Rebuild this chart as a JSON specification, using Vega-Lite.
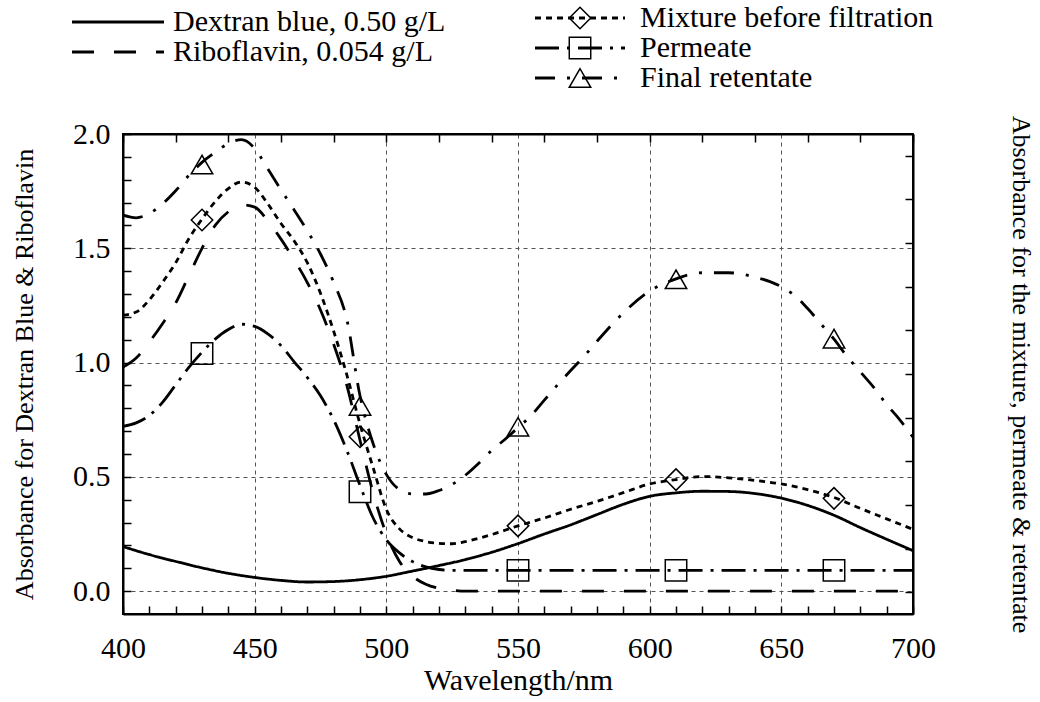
{
  "$schema": "https://vega.github.io/schema/vega-lite/v6.json",
  "autosize": {"type": "none"},
  "padding": {"left": 123, "top": 134, "right": 127, "bottom": 88},
  "width": 790,
  "height": 480,
  "background": "white",
  "config": {
    "font": "Times New Roman, Liberation Serif, serif",
    "view": {"stroke": "black", "strokeWidth": 2},
    "text": {"font": "Times New Roman, Liberation Serif, serif"},
    "axis": {
      "labelFont": "Times New Roman, Liberation Serif, serif", "titleFont": "Times New Roman, Liberation Serif, serif",
      "labelColor": "black", "titleColor": "black", "titleFontWeight": "normal",
      "tickColor": "black", "domainColor": "black", "domainWidth": 2, "tickWidth": 1.5,
      "gridColor": "#555", "gridDash": [4, 4], "gridWidth": 1,
      "labelFontSize": 30, "labelOverlap": false, "labelFlush": false
    },
    "legend": {
      "labelFont": "Times New Roman, Liberation Serif, serif", "labelFontSize": 30, "labelColor": "black",
      "padding": 0, "rowPadding": 0, "clipHeight": 30, "labelLimit": 0, "title": null
    }
  },
  "datasets": {
    "left": [
      {"wavelength": 400, "absorbance": 0.195, "sample": "Dextran blue, 0.50 g/L"},
      {"wavelength": 410, "absorbance": 0.16, "sample": "Dextran blue, 0.50 g/L"},
      {"wavelength": 420, "absorbance": 0.13, "sample": "Dextran blue, 0.50 g/L"},
      {"wavelength": 430, "absorbance": 0.102, "sample": "Dextran blue, 0.50 g/L"},
      {"wavelength": 440, "absorbance": 0.078, "sample": "Dextran blue, 0.50 g/L"},
      {"wavelength": 450, "absorbance": 0.06, "sample": "Dextran blue, 0.50 g/L"},
      {"wavelength": 460, "absorbance": 0.047, "sample": "Dextran blue, 0.50 g/L"},
      {"wavelength": 470, "absorbance": 0.04, "sample": "Dextran blue, 0.50 g/L"},
      {"wavelength": 480, "absorbance": 0.042, "sample": "Dextran blue, 0.50 g/L"},
      {"wavelength": 490, "absorbance": 0.05, "sample": "Dextran blue, 0.50 g/L"},
      {"wavelength": 500, "absorbance": 0.065, "sample": "Dextran blue, 0.50 g/L"},
      {"wavelength": 510, "absorbance": 0.088, "sample": "Dextran blue, 0.50 g/L"},
      {"wavelength": 520, "absorbance": 0.112, "sample": "Dextran blue, 0.50 g/L"},
      {"wavelength": 530, "absorbance": 0.138, "sample": "Dextran blue, 0.50 g/L"},
      {"wavelength": 540, "absorbance": 0.17, "sample": "Dextran blue, 0.50 g/L"},
      {"wavelength": 550, "absorbance": 0.208, "sample": "Dextran blue, 0.50 g/L"},
      {"wavelength": 560, "absorbance": 0.25, "sample": "Dextran blue, 0.50 g/L"},
      {"wavelength": 570, "absorbance": 0.29, "sample": "Dextran blue, 0.50 g/L"},
      {"wavelength": 580, "absorbance": 0.335, "sample": "Dextran blue, 0.50 g/L"},
      {"wavelength": 590, "absorbance": 0.38, "sample": "Dextran blue, 0.50 g/L"},
      {"wavelength": 600, "absorbance": 0.415, "sample": "Dextran blue, 0.50 g/L"},
      {"wavelength": 610, "absorbance": 0.43, "sample": "Dextran blue, 0.50 g/L"},
      {"wavelength": 620, "absorbance": 0.437, "sample": "Dextran blue, 0.50 g/L"},
      {"wavelength": 630, "absorbance": 0.436, "sample": "Dextran blue, 0.50 g/L"},
      {"wavelength": 640, "absorbance": 0.427, "sample": "Dextran blue, 0.50 g/L"},
      {"wavelength": 650, "absorbance": 0.407, "sample": "Dextran blue, 0.50 g/L"},
      {"wavelength": 660, "absorbance": 0.375, "sample": "Dextran blue, 0.50 g/L"},
      {"wavelength": 670, "absorbance": 0.332, "sample": "Dextran blue, 0.50 g/L"},
      {"wavelength": 680, "absorbance": 0.278, "sample": "Dextran blue, 0.50 g/L"},
      {"wavelength": 690, "absorbance": 0.227, "sample": "Dextran blue, 0.50 g/L"},
      {"wavelength": 700, "absorbance": 0.177, "sample": "Dextran blue, 0.50 g/L"},
      {"wavelength": 400, "absorbance": 0.98, "sample": "Riboflavin, 0.054 g/L"},
      {"wavelength": 405, "absorbance": 1.02, "sample": "Riboflavin, 0.054 g/L"},
      {"wavelength": 410, "absorbance": 1.09, "sample": "Riboflavin, 0.054 g/L"},
      {"wavelength": 415, "absorbance": 1.17, "sample": "Riboflavin, 0.054 g/L"},
      {"wavelength": 420, "absorbance": 1.26, "sample": "Riboflavin, 0.054 g/L"},
      {"wavelength": 425, "absorbance": 1.38, "sample": "Riboflavin, 0.054 g/L"},
      {"wavelength": 430, "absorbance": 1.5, "sample": "Riboflavin, 0.054 g/L"},
      {"wavelength": 435, "absorbance": 1.6, "sample": "Riboflavin, 0.054 g/L"},
      {"wavelength": 440, "absorbance": 1.66, "sample": "Riboflavin, 0.054 g/L"},
      {"wavelength": 445, "absorbance": 1.69, "sample": "Riboflavin, 0.054 g/L"},
      {"wavelength": 450, "absorbance": 1.68, "sample": "Riboflavin, 0.054 g/L"},
      {"wavelength": 455, "absorbance": 1.62, "sample": "Riboflavin, 0.054 g/L"},
      {"wavelength": 460, "absorbance": 1.54, "sample": "Riboflavin, 0.054 g/L"},
      {"wavelength": 465, "absorbance": 1.45, "sample": "Riboflavin, 0.054 g/L"},
      {"wavelength": 470, "absorbance": 1.35, "sample": "Riboflavin, 0.054 g/L"},
      {"wavelength": 475, "absorbance": 1.23, "sample": "Riboflavin, 0.054 g/L"},
      {"wavelength": 480, "absorbance": 1.08, "sample": "Riboflavin, 0.054 g/L"},
      {"wavelength": 485, "absorbance": 0.9, "sample": "Riboflavin, 0.054 g/L"},
      {"wavelength": 490, "absorbance": 0.66, "sample": "Riboflavin, 0.054 g/L"},
      {"wavelength": 495, "absorbance": 0.43, "sample": "Riboflavin, 0.054 g/L"},
      {"wavelength": 500, "absorbance": 0.25, "sample": "Riboflavin, 0.054 g/L"},
      {"wavelength": 505, "absorbance": 0.13, "sample": "Riboflavin, 0.054 g/L"},
      {"wavelength": 510, "absorbance": 0.065, "sample": "Riboflavin, 0.054 g/L"},
      {"wavelength": 515, "absorbance": 0.03, "sample": "Riboflavin, 0.054 g/L"},
      {"wavelength": 520, "absorbance": 0.012, "sample": "Riboflavin, 0.054 g/L"},
      {"wavelength": 525, "absorbance": 0.004, "sample": "Riboflavin, 0.054 g/L"},
      {"wavelength": 530, "absorbance": 0, "sample": "Riboflavin, 0.054 g/L"},
      {"wavelength": 550, "absorbance": 0, "sample": "Riboflavin, 0.054 g/L"},
      {"wavelength": 600, "absorbance": 0, "sample": "Riboflavin, 0.054 g/L"},
      {"wavelength": 650, "absorbance": 0, "sample": "Riboflavin, 0.054 g/L"},
      {"wavelength": 700, "absorbance": 0, "sample": "Riboflavin, 0.054 g/L"}
    ],
    "right": [
      {"wavelength": 400, "absorbance": 0.585, "sample": "Mixture before filtration"},
      {"wavelength": 405, "absorbance": 0.592, "sample": "Mixture before filtration"},
      {"wavelength": 410, "absorbance": 0.62, "sample": "Mixture before filtration"},
      {"wavelength": 415, "absorbance": 0.66, "sample": "Mixture before filtration"},
      {"wavelength": 420, "absorbance": 0.705, "sample": "Mixture before filtration"},
      {"wavelength": 425, "absorbance": 0.76, "sample": "Mixture before filtration"},
      {"wavelength": 430, "absorbance": 0.805, "sample": "Mixture before filtration"},
      {"wavelength": 435, "absorbance": 0.845, "sample": "Mixture before filtration"},
      {"wavelength": 440, "absorbance": 0.875, "sample": "Mixture before filtration"},
      {"wavelength": 445, "absorbance": 0.89, "sample": "Mixture before filtration"},
      {"wavelength": 450, "absorbance": 0.878, "sample": "Mixture before filtration"},
      {"wavelength": 455, "absorbance": 0.84, "sample": "Mixture before filtration"},
      {"wavelength": 460, "absorbance": 0.795, "sample": "Mixture before filtration"},
      {"wavelength": 465, "absorbance": 0.755, "sample": "Mixture before filtration"},
      {"wavelength": 470, "absorbance": 0.705, "sample": "Mixture before filtration"},
      {"wavelength": 475, "absorbance": 0.635, "sample": "Mixture before filtration"},
      {"wavelength": 480, "absorbance": 0.548, "sample": "Mixture before filtration"},
      {"wavelength": 485, "absorbance": 0.448, "sample": "Mixture before filtration"},
      {"wavelength": 490, "absorbance": 0.335, "sample": "Mixture before filtration"},
      {"wavelength": 495, "absorbance": 0.235, "sample": "Mixture before filtration"},
      {"wavelength": 500, "absorbance": 0.14, "sample": "Mixture before filtration"},
      {"wavelength": 505, "absorbance": 0.095, "sample": "Mixture before filtration"},
      {"wavelength": 510, "absorbance": 0.075, "sample": "Mixture before filtration"},
      {"wavelength": 515, "absorbance": 0.066, "sample": "Mixture before filtration"},
      {"wavelength": 520, "absorbance": 0.062, "sample": "Mixture before filtration"},
      {"wavelength": 525, "absorbance": 0.061, "sample": "Mixture before filtration"},
      {"wavelength": 530, "absorbance": 0.066, "sample": "Mixture before filtration"},
      {"wavelength": 540, "absorbance": 0.082, "sample": "Mixture before filtration"},
      {"wavelength": 550, "absorbance": 0.102, "sample": "Mixture before filtration"},
      {"wavelength": 560, "absorbance": 0.12, "sample": "Mixture before filtration"},
      {"wavelength": 570, "absorbance": 0.14, "sample": "Mixture before filtration"},
      {"wavelength": 580, "absorbance": 0.158, "sample": "Mixture before filtration"},
      {"wavelength": 590, "absorbance": 0.178, "sample": "Mixture before filtration"},
      {"wavelength": 600, "absorbance": 0.198, "sample": "Mixture before filtration"},
      {"wavelength": 610, "absorbance": 0.208, "sample": "Mixture before filtration"},
      {"wavelength": 620, "absorbance": 0.215, "sample": "Mixture before filtration"},
      {"wavelength": 630, "absorbance": 0.212, "sample": "Mixture before filtration"},
      {"wavelength": 640, "absorbance": 0.206, "sample": "Mixture before filtration"},
      {"wavelength": 650, "absorbance": 0.198, "sample": "Mixture before filtration"},
      {"wavelength": 660, "absorbance": 0.185, "sample": "Mixture before filtration"},
      {"wavelength": 670, "absorbance": 0.167, "sample": "Mixture before filtration"},
      {"wavelength": 680, "absorbance": 0.142, "sample": "Mixture before filtration"},
      {"wavelength": 690, "absorbance": 0.118, "sample": "Mixture before filtration"},
      {"wavelength": 700, "absorbance": 0.094, "sample": "Mixture before filtration"},
      {"wavelength": 400, "absorbance": 0.33, "sample": "Permeate"},
      {"wavelength": 405, "absorbance": 0.338, "sample": "Permeate"},
      {"wavelength": 410, "absorbance": 0.355, "sample": "Permeate"},
      {"wavelength": 415, "absorbance": 0.385, "sample": "Permeate"},
      {"wavelength": 420, "absorbance": 0.425, "sample": "Permeate"},
      {"wavelength": 425, "absorbance": 0.465, "sample": "Permeate"},
      {"wavelength": 430, "absorbance": 0.5, "sample": "Permeate"},
      {"wavelength": 435, "absorbance": 0.53, "sample": "Permeate"},
      {"wavelength": 440, "absorbance": 0.552, "sample": "Permeate"},
      {"wavelength": 445, "absorbance": 0.564, "sample": "Permeate"},
      {"wavelength": 450, "absorbance": 0.559, "sample": "Permeate"},
      {"wavelength": 455, "absorbance": 0.542, "sample": "Permeate"},
      {"wavelength": 460, "absorbance": 0.515, "sample": "Permeate"},
      {"wavelength": 465, "absorbance": 0.478, "sample": "Permeate"},
      {"wavelength": 470, "absorbance": 0.442, "sample": "Permeate"},
      {"wavelength": 475, "absorbance": 0.4, "sample": "Permeate"},
      {"wavelength": 480, "absorbance": 0.345, "sample": "Permeate"},
      {"wavelength": 485, "absorbance": 0.275, "sample": "Permeate"},
      {"wavelength": 490, "absorbance": 0.195, "sample": "Permeate"},
      {"wavelength": 495, "absorbance": 0.12, "sample": "Permeate"},
      {"wavelength": 500, "absorbance": 0.07, "sample": "Permeate"},
      {"wavelength": 505, "absorbance": 0.04, "sample": "Permeate"},
      {"wavelength": 510, "absorbance": 0.02, "sample": "Permeate"},
      {"wavelength": 515, "absorbance": 0.008, "sample": "Permeate"},
      {"wavelength": 520, "absorbance": 0.002, "sample": "Permeate"},
      {"wavelength": 525, "absorbance": 0, "sample": "Permeate"},
      {"wavelength": 550, "absorbance": 0, "sample": "Permeate"},
      {"wavelength": 600, "absorbance": 0, "sample": "Permeate"},
      {"wavelength": 650, "absorbance": 0, "sample": "Permeate"},
      {"wavelength": 700, "absorbance": 0, "sample": "Permeate"},
      {"wavelength": 400, "absorbance": 0.814, "sample": "Final retentate"},
      {"wavelength": 405, "absorbance": 0.808, "sample": "Final retentate"},
      {"wavelength": 410, "absorbance": 0.818, "sample": "Final retentate"},
      {"wavelength": 415, "absorbance": 0.84, "sample": "Final retentate"},
      {"wavelength": 420, "absorbance": 0.87, "sample": "Final retentate"},
      {"wavelength": 425, "absorbance": 0.905, "sample": "Final retentate"},
      {"wavelength": 430, "absorbance": 0.935, "sample": "Final retentate"},
      {"wavelength": 435, "absorbance": 0.958, "sample": "Final retentate"},
      {"wavelength": 440, "absorbance": 0.978, "sample": "Final retentate"},
      {"wavelength": 445, "absorbance": 0.987, "sample": "Final retentate"},
      {"wavelength": 450, "absorbance": 0.967, "sample": "Final retentate"},
      {"wavelength": 455, "absorbance": 0.92, "sample": "Final retentate"},
      {"wavelength": 460, "absorbance": 0.872, "sample": "Final retentate"},
      {"wavelength": 465, "absorbance": 0.826, "sample": "Final retentate"},
      {"wavelength": 470, "absorbance": 0.778, "sample": "Final retentate"},
      {"wavelength": 475, "absorbance": 0.725, "sample": "Final retentate"},
      {"wavelength": 480, "absorbance": 0.66, "sample": "Final retentate"},
      {"wavelength": 485, "absorbance": 0.575, "sample": "Final retentate"},
      {"wavelength": 490, "absorbance": 0.4, "sample": "Final retentate"},
      {"wavelength": 495, "absorbance": 0.29, "sample": "Final retentate"},
      {"wavelength": 500, "absorbance": 0.22, "sample": "Final retentate"},
      {"wavelength": 505, "absorbance": 0.185, "sample": "Final retentate"},
      {"wavelength": 510, "absorbance": 0.175, "sample": "Final retentate"},
      {"wavelength": 515, "absorbance": 0.175, "sample": "Final retentate"},
      {"wavelength": 520, "absorbance": 0.183, "sample": "Final retentate"},
      {"wavelength": 525, "absorbance": 0.197, "sample": "Final retentate"},
      {"wavelength": 530, "absorbance": 0.218, "sample": "Final retentate"},
      {"wavelength": 535, "absorbance": 0.245, "sample": "Final retentate"},
      {"wavelength": 540, "absorbance": 0.275, "sample": "Final retentate"},
      {"wavelength": 545, "absorbance": 0.3, "sample": "Final retentate"},
      {"wavelength": 550, "absorbance": 0.327, "sample": "Final retentate"},
      {"wavelength": 555, "absorbance": 0.355, "sample": "Final retentate"},
      {"wavelength": 560, "absorbance": 0.39, "sample": "Final retentate"},
      {"wavelength": 565, "absorbance": 0.425, "sample": "Final retentate"},
      {"wavelength": 570, "absorbance": 0.458, "sample": "Final retentate"},
      {"wavelength": 575, "absorbance": 0.49, "sample": "Final retentate"},
      {"wavelength": 580, "absorbance": 0.525, "sample": "Final retentate"},
      {"wavelength": 590, "absorbance": 0.59, "sample": "Final retentate"},
      {"wavelength": 600, "absorbance": 0.64, "sample": "Final retentate"},
      {"wavelength": 610, "absorbance": 0.668, "sample": "Final retentate"},
      {"wavelength": 620, "absorbance": 0.682, "sample": "Final retentate"},
      {"wavelength": 630, "absorbance": 0.682, "sample": "Final retentate"},
      {"wavelength": 640, "absorbance": 0.672, "sample": "Final retentate"},
      {"wavelength": 650, "absorbance": 0.65, "sample": "Final retentate"},
      {"wavelength": 655, "absorbance": 0.63, "sample": "Final retentate"},
      {"wavelength": 660, "absorbance": 0.6, "sample": "Final retentate"},
      {"wavelength": 665, "absorbance": 0.565, "sample": "Final retentate"},
      {"wavelength": 670, "absorbance": 0.53, "sample": "Final retentate"},
      {"wavelength": 675, "absorbance": 0.49, "sample": "Final retentate"},
      {"wavelength": 680, "absorbance": 0.455, "sample": "Final retentate"},
      {"wavelength": 685, "absorbance": 0.42, "sample": "Final retentate"},
      {"wavelength": 690, "absorbance": 0.38, "sample": "Final retentate"},
      {"wavelength": 695, "absorbance": 0.345, "sample": "Final retentate"},
      {"wavelength": 700, "absorbance": 0.305, "sample": "Final retentate"}
    ],
    "markers": [
      {"wavelength": 430, "absorbance": 0.803, "marker": "Mixture before filtration"},
      {"wavelength": 490, "absorbance": 0.306, "marker": "Mixture before filtration"},
      {"wavelength": 550, "absorbance": 0.102, "marker": "Mixture before filtration"},
      {"wavelength": 610, "absorbance": 0.208, "marker": "Mixture before filtration"},
      {"wavelength": 670, "absorbance": 0.165, "marker": "Mixture before filtration"},
      {"wavelength": 430, "absorbance": 0.497, "marker": "Permeate"},
      {"wavelength": 490, "absorbance": 0.18, "marker": "Permeate"},
      {"wavelength": 550, "absorbance": 0, "marker": "Permeate"},
      {"wavelength": 610, "absorbance": 0, "marker": "Permeate"},
      {"wavelength": 670, "absorbance": 0, "marker": "Permeate"},
      {"wavelength": 430, "absorbance": 0.93, "marker": "Final retentate"},
      {"wavelength": 490, "absorbance": 0.377, "marker": "Final retentate"},
      {"wavelength": 550, "absorbance": 0.329, "marker": "Final retentate"},
      {"wavelength": 610, "absorbance": 0.667, "marker": "Final retentate"},
      {"wavelength": 670, "absorbance": 0.531, "marker": "Final retentate"}
    ]
  },
  "layer": [
    {
      "data": {"name": "left"},
      "mark": {"type": "line", "color": "black", "strokeWidth": 2.8, "interpolate": "monotone"},
      "encoding": {
        "x": {
          "field": "wavelength", "type": "quantitative",
          "scale": {"domain": [400, 700], "nice": false, "zero": false},
          "axis": {
            "orient": "bottom", "title": "Wavelength/nm", "titleFontSize": 30, "titlePadding": 2,
            "values": [400,410,420,430,440,450,460,470,480,490,500,510,520,530,540,550,560,570,580,590,600,610,620,630,640,650,660,670,680,690,700],
            "format": "d", "labelExpr": "datum.value % 50 == 0 ? datum.label : ''",
            "tickSize": -8, "labelPadding": 27,
            "grid": true,
            "gridOpacity": {"condition": {"test": "datum.value % 50 == 0 && datum.value > 400 && datum.value < 700", "value": 1}, "value": 0}
          }
        },
        "y": {
          "field": "absorbance", "type": "quantitative",
          "scale": {"domain": [-0.1, 2.0], "nice": false, "zero": false},
          "axis": {
            "orient": "left", "title": "Absorbance for Dextran Blue & Riboflavin", "titleFontSize": 26, "titlePadding": 35,
            "values": [0,0.1,0.2,0.3,0.4,0.5,0.6,0.7,0.8,0.9,1.0,1.1,1.2,1.3,1.4,1.5,1.6,1.7,1.8,1.9,2.0],
            "format": ".1f", "labelExpr": "abs(datum.value*2 - round(datum.value*2)) < 0.000001 ? datum.label : ''",
            "tickSize": -8, "labelPadding": 21,
            "grid": true,
            "gridOpacity": {"condition": {"test": "abs(datum.value*2 - round(datum.value*2)) < 0.000001 && datum.value < 1.99", "value": 1}, "value": 0}
          }
        },
        "strokeDash": {
          "field": "sample", "type": "nominal",
          "scale": {"domain": ["Dextran blue, 0.50 g/L", "Riboflavin, 0.054 g/L"], "range": [[1, 0], [22, 20]]},
          "legend": {
            "orient": "none", "legendX": -52.5, "legendY": -127, "title": null,
            "symbolType": "stroke", "symbolSize": 8464, "symbolStrokeWidth": 2.8, "symbolStrokeColor": "black",
            "labelOffset": 7.5
          }
        }
      }
    },
    {
      "layer": [
        {
          "data": {"name": "right"},
          "mark": {"type": "line", "color": "black", "strokeWidth": 2.8, "interpolate": "monotone"},
          "encoding": {
            "x": {
              "field": "wavelength", "type": "quantitative",
              "scale": {"domain": [400, 700], "nice": false, "zero": false},
              "axis": {
                "orient": "top", "title": null, "labels": false, "grid": false, "tickSize": -8,
                "values": [400,410,420,430,440,450,460,470,480,490,500,510,520,530,540,550,560,570,580,590,600,610,620,630,640,650,660,670,680,690,700]
              }
            },
            "y": {
              "field": "absorbance", "type": "quantitative",
              "scale": {"domain": [-0.1, 1.0], "nice": false, "zero": false},
              "axis": {
                "orient": "right", "title": "Absorbance for the mixture, permeate & retentate", "titleFontSize": 26, "titlePadding": 89,
                "values": [-0.05,0,0.05,0.1,0.15,0.2,0.25,0.3,0.35,0.4,0.45,0.5,0.55,0.6,0.65,0.7,0.75,0.8,0.85,0.9,0.95,1.0],
                "format": ".1f", "labelExpr": "abs(datum.value*5 - round(datum.value*5)) < 0.000001 && datum.value > -0.01 ? datum.label : ''",
                "tickSize": -8, "labelPadding": 13,
                "grid": true,
                "gridOpacity": {"condition": {"test": "abs(datum.value*5 - round(datum.value*5)) < 0.000001 && datum.value > -0.01 && datum.value < 0.99", "value": 1}, "value": 0}
              }
            },
            "strokeDash": {
              "field": "sample", "type": "nominal",
              "scale": {"domain": ["Mixture before filtration", "Permeate", "Final retentate"], "range": [[6, 5], [24, 8, 3, 8], [20, 12, 3, 12]]},
              "legend": {
                "orient": "none", "legendX": 410.5, "legendY": -131, "title": null,
                "symbolType": "stroke", "symbolSize": 8100, "symbolStrokeWidth": 2.8, "symbolStrokeColor": "black",
                "labelOffset": 13.5
              }
            }
          }
        },
        {
          "data": {"name": "markers"},
          "mark": {"type": "point", "filled": false, "size": 460, "strokeWidth": 1.5, "color": "black", "opacity": 1},
          "encoding": {
            "x": {"field": "wavelength", "type": "quantitative", "scale": {"domain": [400, 700], "nice": false, "zero": false}},
            "y": {"field": "absorbance", "type": "quantitative", "scale": {"domain": [-0.1, 1.0], "nice": false, "zero": false}},
            "shape": {
              "field": "marker", "type": "nominal",
              "scale": {"domain": ["Mixture before filtration", "Permeate", "Final retentate"], "range": ["diamond", "square", "triangle-up"]},
              "legend": {
                "orient": "none", "legendX": 410.5, "legendY": -131, "title": null,
                "symbolSize": 460, "symbolStrokeWidth": 1.5, "symbolStrokeColor": "black", "symbolFillColor": "white",
                "symbolOffset": 31.5, "labelExpr": "''"
              }
            }
          }
        }
      ]
    }
  ],
  "resolve": {"scale": {"x": "independent", "y": "independent", "strokeDash": "independent"}}
}
